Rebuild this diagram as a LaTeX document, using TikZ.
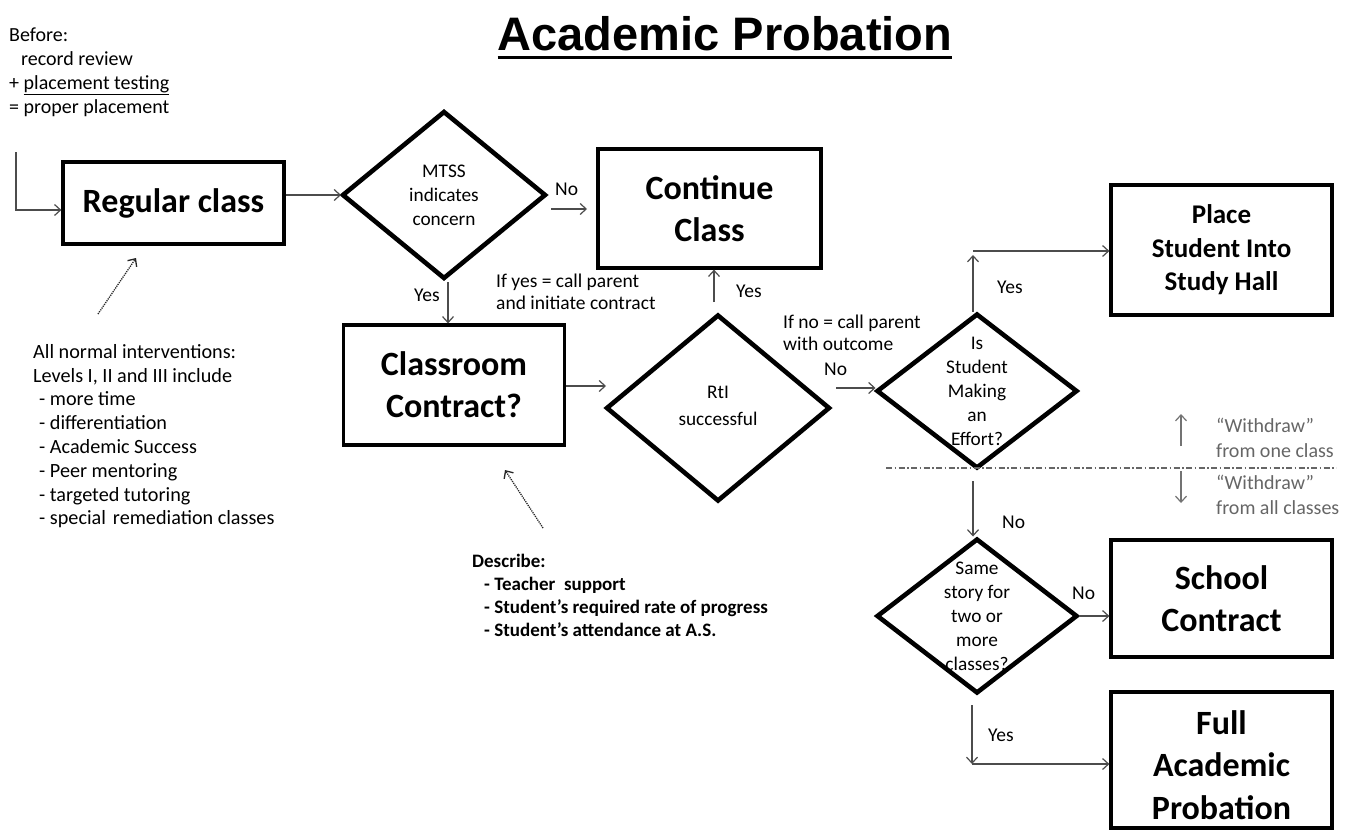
\documentclass[tikz,border=0pt]{standalone}
\usepackage{fontspec}
\setmainfont{Carlito}
\newfontfamily\arialfont{Liberation Sans}
\usetikzlibrary{shapes.geometric,arrows.meta}
\begin{document}
\begin{tikzpicture}[x=1pt,y=-1pt,
  box/.style={draw, line width=3.2pt, font=\bfseries\fontsize{34}{42}\selectfont, align=center, inner sep=0},
  dmd/.style={diamond, inner sep=0, outer sep=0},
  dline/.style={line width=4.6pt, line join=miter},
  conn/.style={draw=black!70, line width=1.2pt, -{Straight Barb[length=6pt,width=11pt]}},
  note/.style={font=\fontsize{20.2}{23.8}\selectfont, align=left, anchor=north west, inner sep=0},
  lbl/.style={font=\fontsize{19.5}{22}\selectfont, inner sep=0, anchor=west},
  dtext/.style={font=\fontsize{19.3}{24}\selectfont, align=center, inner sep=0}]
\useasboundingbox (0,0) rectangle (1346,830);
\fill[white] (0,0) rectangle (1346,830);

% title
\node[font=\arialfont\bfseries\fontsize{47}{52}\selectfont, inner sep=0] (title) at (725,34) {Academic Probation};
\draw[line width=3pt] ([yshift=-7pt]title.base west) -- ([yshift=-7pt]title.base east);

% boxes
\node[box, minimum width=221pt, minimum height=82pt] (reg) at (173.5,203) {Regular class};
\node[box, minimum width=223pt, minimum height=119pt] (cont) at (709.5,208.5) {Continue\\Class};
\node[box, minimum width=221pt, minimum height=120pt] (room) at (454,385) {Classroom\\Contract?};
\node[box, minimum width=221pt, minimum height=130pt, font=\bfseries\fontsize{27}{33.5}\selectfont] (place) at (1221.5,250) {Place\\Student Into\\Study Hall};
\node[box, minimum width=221pt, minimum height=117pt] (school) at (1221.5,598.5) {School\\Contract};
\node[box, minimum width=221pt, minimum height=136pt] (full) at (1221.5,760) {};
\node[font=\bfseries\fontsize{34}{42.5}\selectfont, align=center, inner sep=0] (fullt) at (1221.5,765) {Full\\Academic\\Probation};

% diamonds
\node[dmd, minimum width=202pt, minimum height=166pt] (mtss) at (444,195) {};
\node[dmd, minimum width=222pt, minimum height=185pt] (rti) at (718,408) {};
\node[dmd, minimum width=199pt, minimum height=153pt] (eff) at (977,391) {};
\node[dmd, minimum width=199pt, minimum height=153pt] (same) at (977,616) {};
\foreach \d in {mtss,rti,eff,same}
  \draw[dline] (\d.north) -- (\d.east) -- (\d.south) -- (\d.west) -- cycle;
\node[dtext] (mtsst) at (mtss) {MTSS\\indicates\\concern};
\node[dtext, font=\fontsize{19.3}{27}\selectfont] (rtit) at (718,406) {RtI\\successful};
\node[dtext] (efft) at (eff) {Is\\Student\\Making\\an\\Effort?};
\node[dtext] (samet) at (same) {Same\\story for\\two or\\more\\classes?};

% notes
\node[note, font=\fontsize{20}{23.7}\selectfont] (before) at (9,28) {Before:\\\hspace*{12pt}record review\\+ \underline{placement testing}\\= proper placement};
\node[note] (interv) at (33,344) {All normal interventions:\\Levels I, II and III include\\\hspace*{6pt}- more time\\\hspace*{6pt}- differentiation\\\hspace*{6pt}- Academic Success\\\hspace*{6pt}- Peer mentoring\\\hspace*{6pt}- targeted tutoring\\\hspace*{6pt}- special\hspace{7pt}remediation classes};
\node[note, font=\bfseries\fontsize{19}{23}\selectfont] (desc) at (472,554) {Describe:\\\hspace*{12pt}- Teacher\ \ support\\\hspace*{12pt}- Student's required rate of progress\\\hspace*{12pt}- Student's attendance at A.S.};

% labels
\node[lbl] (lno1) at (555,189) {No};
\node[lbl] (lyes1) at (414,295) {Yes};
\node[lbl, align=left] (lifyes) at (496,292) {If yes = call parent\\and initiate contract};
\node[lbl] (lyes2) at (736,291) {Yes};
\node[lbl, align=left] (lifno) at (783,333) {If no = call parent\\with outcome};
\node[lbl] (lno2) at (824,369) {No};
\node[lbl] (lyes3) at (997,287) {Yes};
\node[lbl] (lno3) at (1002,522) {No};
\node[lbl] (lno4) at (1072,593) {No};
\node[lbl] (lyes4) at (988,735) {Yes};
\node[lbl, align=left, text=black!60, font=\fontsize{20}{25}\selectfont] (wone) at (1216,438) {“Withdraw”\\from one class};
\node[lbl, align=left, text=black!60, font=\fontsize{20}{25}\selectfont] (wall) at (1216,495) {“Withdraw”\\from all classes};

% coordinates
\coordinate (startA) at (16,152);
\coordinate (startB) at (16,210);
\coordinate (no1a) at (551,209);
\coordinate (no1b) at (587,209);
\coordinate (mtssy) at (448,282);
\coordinate (rooma) at (566,386);
\coordinate (roomb) at (606,386);
\coordinate (rtiy) at (714,302);
\coordinate (rtino) at (836,388);
\coordinate (effup) at (973,255);
\coordinate (effh) at (973,251);
\coordinate (effno) at (973,481);
\coordinate (samey) at (972,705);
\coordinate (sameyb) at (972,764);
\coordinate (arr1a) at (98,314);
\coordinate (arr1b) at (136,258);
\coordinate (arr2a) at (543,528);
\coordinate (arr2b) at (505,470);
\coordinate (dda) at (886,468);
\coordinate (ddb) at (1336,468);
\coordinate (wua) at (1181,446);
\coordinate (wub) at (1181,414);
\coordinate (wda) at (1181,471);
\coordinate (wdb) at (1181,503);

% connectors
\draw[conn] (startA) -- (startB) -- (reg.west |- startB);
\draw[conn] (reg.east |- mtss.west) -- ([xshift=-2pt]mtss.west);
\draw[conn] (no1a) -- (no1b);
\draw[conn] (mtssy) -- (room.north -| mtssy);
\draw[conn] (rooma) -- (roomb);
\draw[conn] (rtiy) -- (cont.south -| rtiy);
\draw[conn] (rtino) -- ([xshift=-2pt]eff.west |- rtino);
\draw[conn] ([yshift=3pt]eff.north -| effup) -- (effup);
\draw[conn] (effh) -- (place.west |- effh);
\draw[conn] (effno) -- ([yshift=3pt]same.north -| effno);
\draw[conn] ([xshift=2pt]same.east) -- (school.west |- same.east);
\draw[conn] (samey) -- (sameyb);
\draw[conn] (sameyb) -- (full.west |- sameyb);
\draw[conn, draw=black!85, densely dotted, line width=1.3pt] (arr1a) -- (arr1b);
\draw[conn, draw=black!85, densely dotted, line width=1.3pt] (arr2a) -- (arr2b);
\draw[black!60, line width=1.5pt, dash pattern=on 6pt off 2.5pt on 1.5pt off 2.5pt] (dda) -- (ddb);
\draw[conn, draw=black!55] (wua) -- (wub);
\draw[conn, draw=black!55] (wda) -- (wdb);
\end{tikzpicture}
\end{document}
